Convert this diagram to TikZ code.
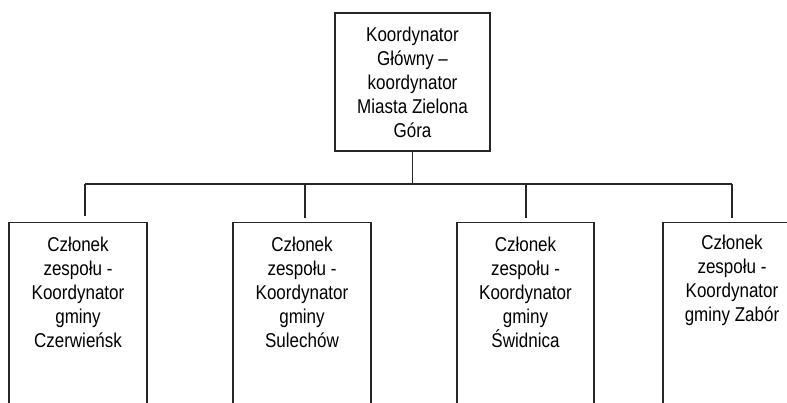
\documentclass[tikz,border=0pt]{standalone}
\usepackage{fontspec}
\setmainfont{Liberation Sans}[FakeStretch=0.85]
\begin{document}
\begin{tikzpicture}[x=1pt,y=-1pt,
  line width=1.1pt,
  linecol/.style={draw=black!85},
  box/.style={linecol, rectangle, inner sep=0pt},
  txt/.style={align=center, inner sep=0pt, font=\fontsize{20}{24}\selectfont}]
\useasboundingbox (0,0) rectangle (787,403);
\clip (0,0) rectangle (787,403);
\fill[white] (0,0) rectangle (787,403);
% top box
\node[box, minimum width=155pt, minimum height=138pt, txt] (top) at (412.5,82)
  {Koordynator\\Główny –\\koordynator\\Miasta Zielona\\Góra};
% bottom boxes
\node[box, minimum width=138pt, minimum height=240pt, anchor=north] (b1) at (78,222) {};
\node[box, minimum width=138pt, minimum height=240pt, anchor=north] (b2) at (302,222) {};
\node[box, minimum width=137pt, minimum height=240pt, anchor=north] (b3) at (525.5,222) {};
\node[box, minimum width=138pt, minimum height=240pt, anchor=north] (b4) at (732,222) {};
\node[txt] (t1) at (78,292) {Członek\\zespołu -\\Koordynator\\gminy\\Czerwieńsk};
\node[txt] (t2) at (302,292) {Członek\\zespołu -\\Koordynator\\gminy\\Sulechów};
\node[txt] (t3) at (525.5,292) {Członek\\zespołu -\\Koordynator\\gminy\\Świdnica};
\node[txt] (t4) at (732,280) {Członek\\zespołu -\\Koordynator\\gminy Zabór};
% connectors
\coordinate (j) at (412.5,185);
\coordinate (h1) at (85,184);
\coordinate (h2) at (305,184);
\coordinate (h3) at (526,184);
\coordinate (h4) at (732,184);
\coordinate (v1) at (85,216);
\coordinate (v2) at (305,218);
\coordinate (v3) at (526,218);
\coordinate (v4) at (732,218);
\draw[linecol] (top.south) -- (j);
\draw[linecol] (h1) -- (h4);
\draw[linecol] (h1) -- (v1);
\draw[linecol] (h2) -- (v2);
\draw[linecol] (h3) -- (v3);
\draw[linecol] (h4) -- (v4);
\end{tikzpicture}
\end{document}
